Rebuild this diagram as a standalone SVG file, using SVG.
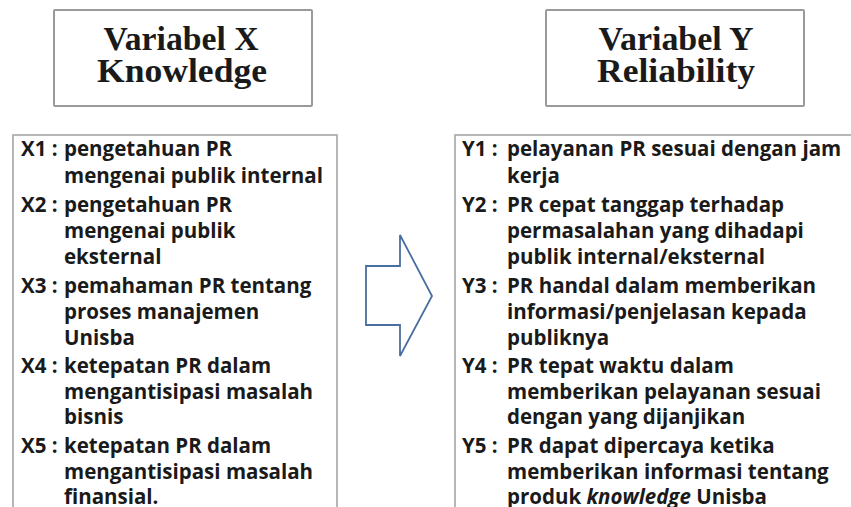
<svg xmlns="http://www.w3.org/2000/svg" width="851" height="507" viewBox="0 0 851 507">
<style>
.box{fill:#fff;stroke:#9a9a9a;stroke-width:2}
.list{fill:#fff;stroke:#a6a6a6;stroke-width:1.6}
.title{font-family:"Liberation Serif",serif;font-weight:700;font-size:33px;fill:#1a1a1a;text-anchor:middle}
.t{font-family:"Open Sans",sans-serif;font-weight:700;font-size:20.5px;fill:#1a1a1a}
</style>
<rect width="851" height="507" fill="#fff"/>
<g id="titleX">
<rect class="box" x="54" y="10" width="258" height="96" rx="1"/>
<text class="title" x="181" y="50" textLength="155" lengthAdjust="spacingAndGlyphs">Variabel X</text>
<text class="title" x="182" y="82" textLength="170" lengthAdjust="spacingAndGlyphs">Knowledge</text>
</g>
<g id="titleY">
<rect class="box" x="546" y="10" width="258" height="96" rx="1"/>
<text class="title" x="676" y="50" textLength="155" lengthAdjust="spacingAndGlyphs">Variabel Y</text>
<text class="title" x="676" y="82" textLength="158" lengthAdjust="spacingAndGlyphs">Reliability</text>
</g>
<g id="listX">
<rect class="list" x="13" y="135" width="324" height="380"/>
<g class="t">
<text x="21" y="156">X1 :</text><text x="64" y="156">pengetahuan PR</text>
<text x="64" y="183">mengenai publik internal</text>
<text x="21" y="212">X2 :</text><text x="64" y="212">pengetahuan PR</text>
<text x="64" y="238">mengenai publik</text>
<text x="64" y="264">eksternal</text>
<text x="21" y="293">X3 :</text><text x="64" y="293">pemahaman PR tentang</text>
<text x="64" y="319">proses manajemen</text>
<text x="64" y="345">Unisba</text>
<text x="21" y="373">X4 :</text><text x="64" y="373">ketepatan PR dalam</text>
<text x="64" y="399">mengantisipasi masalah</text>
<text x="64" y="424">bisnis</text>
<text x="21" y="453">X5 :</text><text x="64" y="453">ketepatan PR dalam</text>
<text x="64" y="479">mengantisipasi masalah</text>
<text x="64" y="504">finansial.</text>
</g>
</g>
<g id="listY">
<rect class="list" x="455" y="135" width="410" height="380"/>
<g class="t">
<text x="462" y="156">Y1 :</text><text x="507" y="156">pelayanan PR sesuai dengan jam</text>
<text x="507" y="183">kerja</text>
<text x="462" y="212">Y2 :</text><text x="507" y="212">PR cepat tanggap terhadap</text>
<text x="507" y="238">permasalahan yang dihadapi</text>
<text x="507" y="264">publik internal/eksternal</text>
<text x="462" y="293">Y3 :</text><text x="507" y="293">PR handal dalam memberikan</text>
<text x="507" y="319">informasi/penjelasan kepada</text>
<text x="507" y="345">publiknya</text>
<text x="462" y="373">Y4 :</text><text x="507" y="373">PR tepat waktu dalam</text>
<text x="507" y="399">memberikan pelayanan sesuai</text>
<text x="507" y="424">dengan yang dijanjikan</text>
<text x="462" y="453">Y5 :</text><text x="507" y="453">PR dapat dipercaya ketika</text>
<text x="507" y="479">memberikan informasi tentang</text>
<text x="507" y="504">produk <tspan font-style="italic">knowledge</tspan> Unisba</text>
</g>
</g>
<g id="connectors">
<polygon points="366,266 400,266 400,235 432,296 400,356 400,325 366,325" fill="#fff" stroke="#4a6f9f" stroke-width="1.8" stroke-linejoin="miter"/>
</g>
</svg>
